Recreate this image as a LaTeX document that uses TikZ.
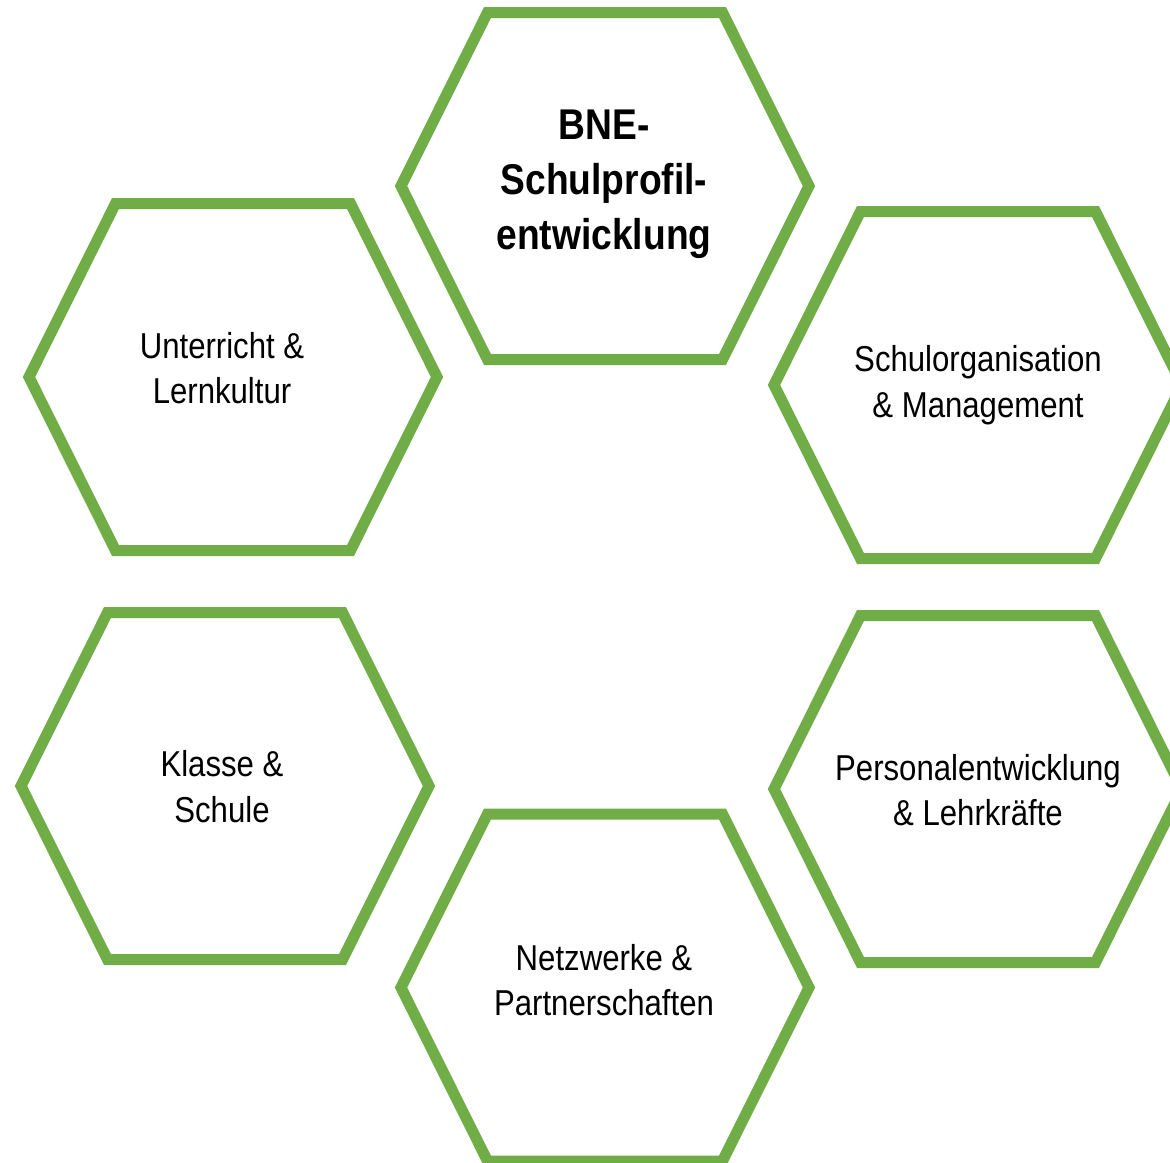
\documentclass[tikz,border=0pt]{standalone}
\usepackage{fontspec}
\setmainfont{Liberation Sans}[FakeStretch=0.865]
\definecolor{hexgreen}{HTML}{70AD47}
\tikzset{
  hexline/.style={draw=hexgreen, line width=11pt, line join=miter},
  hexa/.pic={\draw[hexline] (-117.5,-173.5) -- (117.5,-173.5) -- (204,0) -- (117.5,173.5) -- (-117.5,173.5) -- (-204,0) -- cycle;},
  hextext/.style={align=center, inner sep=0pt, text=black, font=\fontsize{36}{45.5}\selectfont},
  hextitle/.style={align=center, inner sep=0pt, text=black, font=\fontsize{43}{55}\selectfont\bfseries},
}
\begin{document}
\begin{tikzpicture}[x=1pt,y=-1pt]
\useasboundingbox (0,0) rectangle (1170,1162);
\clip (0,0) rectangle (1170,1162);
\fill[white] (0,0) rectangle (1170,1162);
% hexagons
\pic at (605,186) {hexa};
\pic at (233,377) {hexa};
\pic at (978,385) {hexa};
\pic at (225,786) {hexa};
\pic at (978,789) {hexa};
\pic at (605,987.5) {hexa};
% texts
\node[hextitle] (bne) at (604,184) {BNE-\\Schulprofil-\\entwicklung};
\node[hextext] (unterricht) at (222,368) {Unterricht \&\\Lernkultur};
\node[hextext] (schulorg) at (978,385) {Schulorganisation\\\& Management};
\node[hextext] (klasse) at (222,786.5) {Klasse \&\\Schule};
\node[hextext] (personal) at (978,790) {Personalentwicklung\\\& Lehrkräfte};
\node[hextext] (netzwerke) at (604,980) {Netzwerke \&\\Partnerschaften};
\end{tikzpicture}
\end{document}
